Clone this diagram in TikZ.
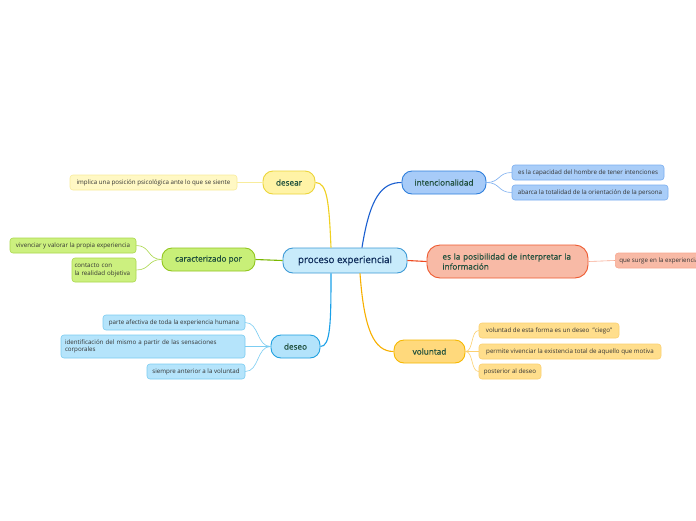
\documentclass[tikz,border=0pt]{standalone}
\usepackage{fontspec}
\setmainfont{Open Sans}
\newfontfamily\medfont[FakeBold=0.6]{Open Sans}
\definecolor{cfill}{HTML}{C8EBFB}\definecolor{cdraw}{HTML}{3D9AD6}
\definecolor{yfill}{HTML}{FFF3A6}\definecolor{ydraw}{HTML}{ECD53A}\definecolor{yline}{HTML}{F0D020}
\definecolor{ylfill}{HTML}{FFF8C4}\definecolor{yldraw}{HTML}{F8EC9C}
\definecolor{gfill}{HTML}{C8EF78}\definecolor{gdraw}{HTML}{92C61E}\definecolor{gline}{HTML}{7AB800}
\definecolor{glfill}{HTML}{CCF07F}\definecolor{gldraw}{HTML}{AAD84C}
\definecolor{bfill}{HTML}{B3E3FB}\definecolor{bdraw}{HTML}{1FA0E0}\definecolor{bline}{HTML}{1AA0E8}
\definecolor{blfill}{HTML}{B5E4FB}\definecolor{bldraw}{HTML}{7CCDF2}
\definecolor{ifill}{HTML}{A7CBF8}\definecolor{idraw}{HTML}{2F7FDC}\definecolor{iline}{HTML}{1A5FD0}
\definecolor{ilfill}{HTML}{A9CDF8}\definecolor{ildraw}{HTML}{7AAEF0}
\definecolor{rfill}{HTML}{F8BAA6}\definecolor{rdraw}{HTML}{EE5A30}\definecolor{rline}{HTML}{EE4A20}
\definecolor{rlfill}{HTML}{F8BAA6}\definecolor{rldraw}{HTML}{F8A890}
\definecolor{ofill}{HTML}{FFD97C}\definecolor{odraw}{HTML}{F6B800}\definecolor{oline}{HTML}{F8B000}
\definecolor{olfill}{HTML}{FFDE8C}\definecolor{oldraw}{HTML}{FCD070}
\definecolor{toptext}{HTML}{1F4F3C}\definecolor{ctext}{HTML}{0D2B5A}\definecolor{leaftext}{HTML}{333333}
\begin{document}
\begin{tikzpicture}[x=1pt,y=-1pt,
  central/.style={draw=cdraw,fill=cfill,line width=0.9pt,rounded corners=10pt,minimum width=124pt,minimum height=25pt,inner sep=0pt,font=\medfont\fontsize{9.8}{11}\selectfont,text=ctext},
  topic/.style={line width=0.9pt,rounded corners=10pt,minimum height=23pt,inner sep=0pt,font=\medfont\fontsize{8.2}{10}\selectfont,text=toptext},
  leaf/.style={line width=0.6pt,rounded corners=3pt,minimum height=15pt,inner sep=0pt,font=\fontsize{6.2}{7.6}\selectfont,text=leaftext},
  tl/.style={line width=1.1pt},
  ll/.style={line width=0.6pt}]
\useasboundingbox (0,0) rectangle (696,520);
\fill[white] (0,0) rectangle (696,520);
% central
\node[central] (c) at (345,260.5) {proceso experiencial};
% topics
\node[topic,draw=ydraw,fill=yfill,minimum width=52pt] (des) at (289,182.5) {desear};
\node[topic,draw=gdraw,fill=gfill,minimum width=93pt] (car) at (208.5,259.5) {caracterizado por};
\node[topic,draw=bdraw,fill=bfill,minimum width=49pt] (dso) at (295.5,346.5) {deseo};
\node[topic,draw=idraw,fill=ifill,minimum width=84pt] (int) at (444,182.5) {intencionalidad};
\node[topic,draw=rdraw,fill=rfill,minimum width=161pt,minimum height=33pt,rounded corners=13pt,align=left,text width=130pt,inner xsep=15.5pt] (pos) at (507.5,261.5) {es la posibilidad de interpretar la\\información};
\node[topic,draw=odraw,fill=ofill,minimum width=71pt] (vol) at (429.5,351.5) {voluntad};
% leaves
\node[leaf,draw=yldraw,fill=ylfill,minimum width=167pt] (l1) at (153.5,182.5) {implica una posición psicológica ante lo que se siente};
\node[leaf,draw=gldraw,fill=glfill,minimum width=126pt] (l2) at (73,245.5) {vivenciar y valorar la propia experiencia};
\node[leaf,draw=gldraw,fill=glfill,minimum width=64pt,minimum height=24pt,align=left,text width=59pt,inner xsep=2.5pt] (l3) at (104,270) {contacto con\\la realidad objetiva};
\node[leaf,draw=bldraw,fill=blfill,minimum width=142pt] (l4) at (174,322.5) {parte afectiva de toda la experiencia humana};
\node[leaf,draw=bldraw,fill=blfill,minimum width=184pt,minimum height=23pt,align=left,text width=176pt,inner xsep=4pt] (l5) at (153,346.5) {identificación del mismo a partir de las sensaciones\\corporales};
\node[leaf,draw=bldraw,fill=blfill,minimum width=98pt] (l6) at (196,371.5) {siempre anterior a la voluntad};
\node[leaf,draw=ildraw,fill=ilfill,minimum width=152pt] (l7) at (588,172.5) {es la capacidad del hombre de tener intenciones};
\node[leaf,draw=ildraw,fill=ilfill,minimum width=156pt] (l8) at (590,192.5) {abarca la totalidad de la orientación de la persona};
\node[leaf,draw=rldraw,fill=rlfill,anchor=west,inner xsep=4pt] (l9) at (615,260.5) {que surge en la experiencia};
\node[leaf,draw=oldraw,fill=olfill,minimum width=140pt] (l10) at (549,330.5) {voluntad de esta forma es un deseo\ \ "ciego"};
\node[leaf,draw=oldraw,fill=olfill,minimum width=182pt] (l11) at (570,351.5) {permite vivenciar la existencia total de aquello que motiva};
\node[leaf,draw=oldraw,fill=olfill,minimum width=62pt] (l12) at (510,371.5) {posterior al deseo};
% main connectors
\draw[tl,yline] ([xshift=-14pt]c.north) .. controls +(-2,-45) and +(12,0) .. (des.east);
\draw[tl,gline] (c.west) -- (car.east);
\draw[tl,bline] ([xshift=-14pt]c.south) .. controls +(0,50) and +(10,0) .. (dso.east);
\draw[tl,iline] ([xshift=17pt]c.north) .. controls +(8,-50) and +(-20,0) .. (int.west);
\draw[tl,rline] (c.east) -- (pos.west);
\draw[tl,oline] ([xshift=15pt]c.south) .. controls +(4,55) and +(-20,0) .. (vol.west);
% leaf connectors
\draw[ll,yldraw] (des.west) -- (l1.east);
\draw[ll,gldraw] (car.west) .. controls +(-14,0) and +(14,0) .. (l2.east);
\draw[ll,gldraw] (car.west) .. controls +(-14,0) and +(14,0) .. (l3.east);
\draw[ll,bldraw] (dso.west) .. controls +(-14,0) and +(14,0) .. (l4.east);
\draw[ll,bldraw] (dso.west) -- (l5.east);
\draw[ll,bldraw] (dso.west) .. controls +(-14,0) and +(14,0) .. (l6.east);
\draw[ll,ildraw] (int.east) .. controls +(14,0) and +(-14,0) .. (l7.west);
\draw[ll,ildraw] (int.east) .. controls +(14,0) and +(-14,0) .. (l8.west);
\draw[ll,rldraw] (pos.east) -- (l9.west);
\draw[ll,oldraw] (vol.east) .. controls +(8,0) and +(-8,0) .. (l10.west);
\draw[ll,oldraw] (vol.east) -- (l11.west);
\draw[ll,oldraw] (vol.east) .. controls +(8,0) and +(-8,0) .. (l12.west);
\end{tikzpicture}
\end{document}
